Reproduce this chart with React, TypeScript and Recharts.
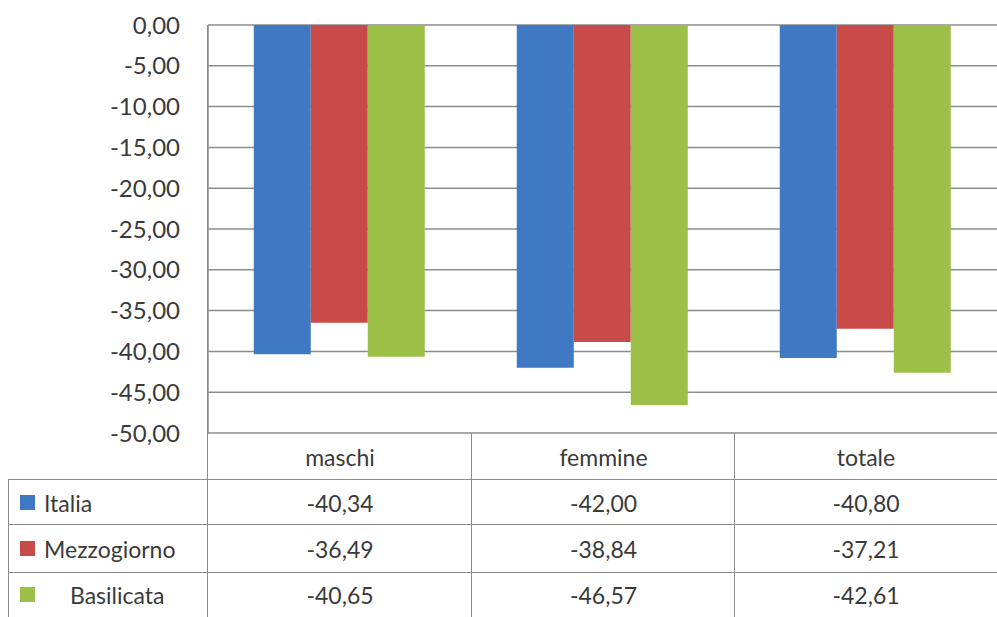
import { BarChart, Bar, XAxis, YAxis, CartesianGrid } from "recharts";

const categories = ["maschi", "femmine", "totale"];
const seriesNames = ["Italia", "Mezzogiorno", "Basilicata"];
const italia = [-40.34, -42.0, -40.8];
const mezzogiorno = [-36.49, -38.84, -37.21];
const basilicata = [-40.65, -46.57, -42.61];
const yTicks = [0, -5, -10, -15, -20, -25, -30, -35, -40, -45, -50];

const colors = ["#3f78c3", "#c84b49", "#9bbf47"];
const seriesValues = [italia, mezzogiorno, basilicata];
const keys = ["italia", "mezzogiorno", "basilicata"];

const data = categories.map((c, i) => ({
  cat: c,
  italia: italia[i],
  mezzogiorno: mezzogiorno[i],
  basilicata: basilicata[i]
}));

const fmt = (v: number) => v.toFixed(2).replace(".", ",");

const W = 997;
const H = 617;
const plotLeft = 208;
const plotBottom = 433;
const colX = [208, 472, 735, 997];
const rowY = [433, 480, 525, 573, 617];
const lineColor = "#8c8c8c";
const textColor = "#3a3a3a";
const font = "Lato, 'Open Sans', sans-serif";

export default function App() {
  return (
    <div
      style={{
        position: "fixed",
        left: 0,
        top: 0,
        width: W,
        height: H,
        background: "#fff",
        fontFamily: font,
        color: textColor,
        overflow: "hidden"
      }}
    >
      <BarChart
        width={W}
        height={plotBottom + 20}
        data={data}
        margin={{ top: 25, right: 0, bottom: 20, left: 0 }}
        barCategoryGap="17.4%"
        barGap={0}
      >
        <CartesianGrid vertical={false} stroke={lineColor} strokeWidth={1.5} />
        <XAxis dataKey="cat" hide />
        <YAxis
          width={plotLeft}
          domain={[-50, 0]}
          ticks={yTicks}
          tickFormatter={fmt}
          interval={0}
          tickLine={false}
          tickSize={0}
          tickMargin={28}
          axisLine={{ stroke: lineColor, strokeWidth: 1.5 }}
          tick={{ fill: textColor, fontSize: 24, fontFamily: font }}
        />
        {keys.map((k, i) => (
          <Bar key={k} dataKey={k} name={seriesNames[i]} fill={colors[i]} isAnimationActive={false} />
        ))}
      </BarChart>

      {/* data table under the plot */}
      {rowY.slice(1, 4).map((y) => (
        <div key={"h" + y} style={{ position: "absolute", left: 8, top: y - 1, width: W - 8, height: 0, borderTop: `1.5px solid ${lineColor}` }} />
      ))}
      <div style={{ position: "absolute", left: 8, top: rowY[1], height: H - rowY[1], borderLeft: `1.5px solid ${lineColor}` }} />
      <div style={{ position: "absolute", left: colX[0] - 0.75, top: 25, height: H - 25, borderLeft: `1.5px solid ${lineColor}` }} />
      {colX.slice(1, 3).map((x) => (
        <div key={"v" + x} style={{ position: "absolute", left: x - 0.75, top: rowY[0], height: H - rowY[0], borderLeft: `1.5px solid ${lineColor}` }} />
      ))}

      {categories.map((c, i) => (
        <div
          key={c}
          style={{
            position: "absolute",
            left: colX[i],
            width: colX[i + 1] - colX[i],
            top: rowY[0],
            height: rowY[1] - rowY[0],
            display: "flex",
            alignItems: "center",
            justifyContent: "center",
            fontSize: 23
          }}
        >
          {c}
        </div>
      ))}

      {seriesNames.map((s, r) => (
        <div key={s}>
          <div
            style={{
              position: "absolute",
              left: 20,
              top: (rowY[r + 1] + rowY[r + 2]) / 2 - 8,
              width: 15,
              height: 15,
              background: colors[r]
            }}
          />
          <div
            style={{
              position: "absolute",
              left: r === 2 ? 70 : 44,
              top: rowY[r + 1],
              height: rowY[r + 2] - rowY[r + 1],
              display: "flex",
              alignItems: "center",
              fontSize: 23
            }}
          >
            {s}
          </div>
          {seriesValues[r].map((v, i) => (
            <div
              key={i}
              style={{
                position: "absolute",
                left: colX[i],
                width: colX[i + 1] - colX[i],
                top: rowY[r + 1],
                height: rowY[r + 2] - rowY[r + 1],
                display: "flex",
                alignItems: "center",
                justifyContent: "center",
                fontSize: 23
              }}
            >
              {fmt(v)}
            </div>
          ))}
        </div>
      ))}
    </div>
  );
}
